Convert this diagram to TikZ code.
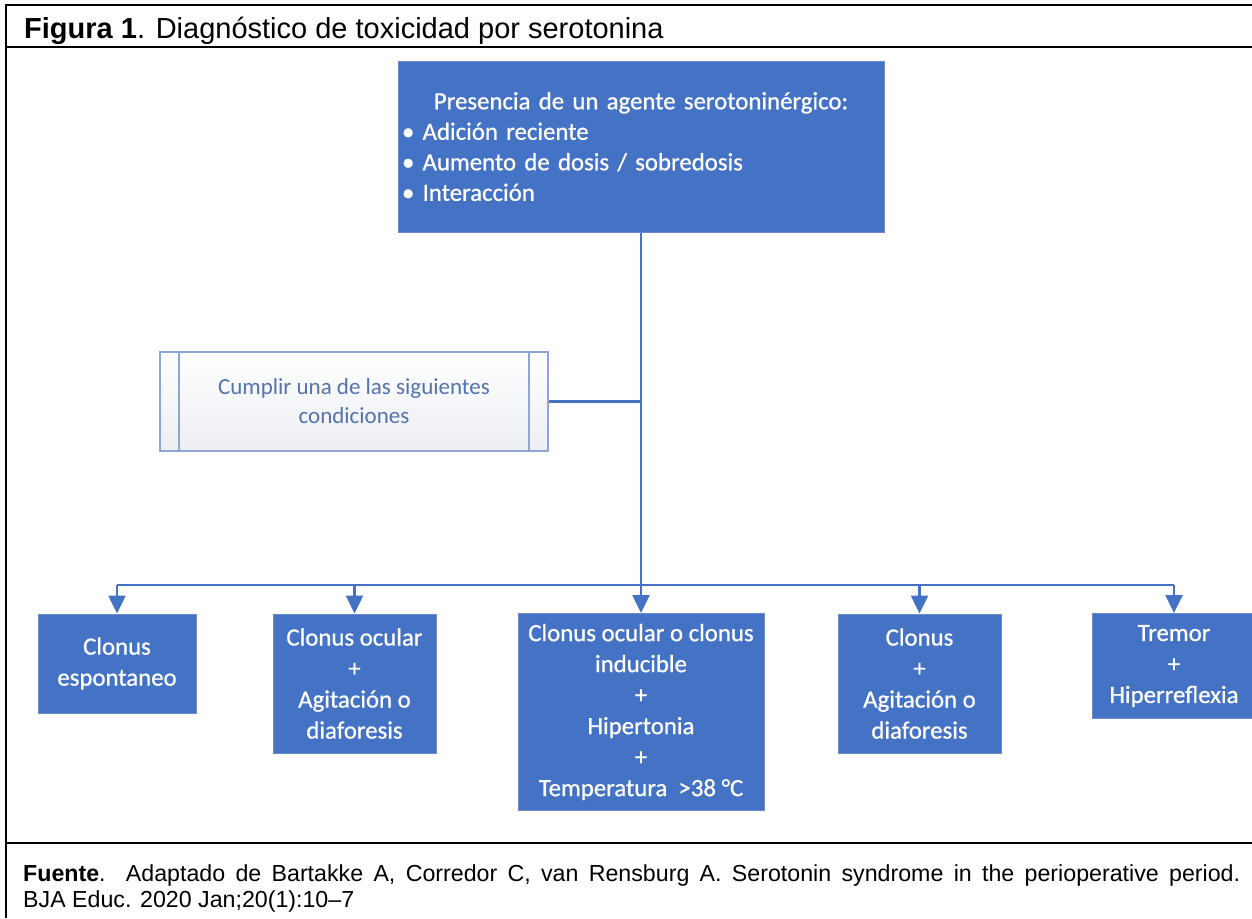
\documentclass[tikz,border=0pt]{standalone}
\usepackage{fontspec}
\setmainfont{Liberation Sans}
\newfontfamily\calfont{Carlito}
\newfontfamily\calwhite{Carlito}[FakeBold=0.8]
\usetikzlibrary{arrows.meta}
\definecolor{boxblue}{HTML}{4472C4}
\definecolor{boxedge}{HTML}{6A8CCB}
\definecolor{condedge}{HTML}{8EA6D6}
\definecolor{condtext}{HTML}{5273AE}
\definecolor{condbot}{HTML}{ECEEF3}
\tikzset{
  frame/.style={draw=black, line width=2pt},
  bluebox/.style={rectangle, fill=boxblue, draw=boxedge, line width=1pt, text=white,
    align=center, inner sep=4pt, font=\calwhite\fontsize{24.8}{31}\selectfont},
  condbox/.style={rectangle, draw=condedge, line width=2pt, top color=white, bottom color=condbot,
    text=condtext, align=center, font=\calfont\fontsize{23}{29}\selectfont},
  condline/.style={draw=condedge, line width=2pt},
  conn/.style={draw=boxblue, line width=2.5pt},
  arr/.style={conn, -{Triangle[width=17pt,length=18pt]}},
}
\begin{document}
\begin{tikzpicture}[x=1pt,y=-1pt]
\useasboundingbox (0,0) rectangle (1252,918);
% frame
\draw[frame] (6,918) -- (6,5) -- (1252,5);
\draw[frame] (6,47) -- (1252,47);
\draw[frame] (6,843) -- (1252,843);
% title and source
\node[anchor=base west, inner sep=0, font=\fontsize{29}{34}\selectfont] (title) at (24,38.5)
  {\textbf{Figura 1}. Diagnóstico de toxicidad por serotonina};
\node[anchor=base west, inner sep=0, font=\fontsize{23.2}{26}\selectfont] (src1) at (23,881)
  {\makebox[1217pt][s]{\textbf{Fuente}. Adaptado de Bartakke A, Corredor C, van Rensburg A. Serotonin syndrome in the perioperative period.}};
\node[anchor=base west, inner sep=0, font=\fontsize{23.2}{26}\selectfont] (src2) at (23,907)
  {BJA Educ. 2020 Jan;20(1):10–7};
% top box
\node[bluebox, minimum width=486pt, minimum height=171pt, text width=478pt, align=left,
  font=\calwhite\fontsize{24.8}{30.5}\selectfont] (agent) at (641,146.5)
  {\makebox[478pt][c]{Presencia de un agente serotoninérgico:}\\
   • Adición reciente\\
   • Aumento de dosis / sobredosis\\
   • Interacción};
% conditions box
\node[condbox, minimum width=388pt, minimum height=99pt] (cond) at (354,401.5)
  {Cumplir una de las siguientes\\condiciones};
\draw[condline] ([xshift=20pt]cond.north west) -- ([xshift=20pt]cond.south west);
\draw[condline] ([xshift=-20pt]cond.north east) -- ([xshift=-20pt]cond.south east);
% bottom boxes
\node[bluebox, minimum width=158pt, minimum height=99pt] (b1) at (117,663.5)
  {Clonus\\espontaneo};
\node[bluebox, minimum width=163pt, minimum height=139pt] (b2) at (354.5,683.5)
  {Clonus ocular\\+\\Agitación o\\diaforesis};
\node[bluebox, minimum width=246pt, minimum height=197pt] (b3) at (641,712)
  {Clonus ocular o clonus\\inducible\\+\\Hipertonia\\+\\Temperatura~~>38 °C};
\node[bluebox, minimum width=163pt, minimum height=139pt] (b4) at (919.5,683.5)
  {Clonus\\+\\Agitación o\\diaforesis};
\node[bluebox, minimum width=164pt, minimum height=105pt] (b5) at (1174,666)
  {Tremor\\+\\Hiperreflexia};
% connectors
\coordinate (bus) at (641,585);
\draw[conn] (agent.south) -- (bus);
\draw[conn] (cond.east) -- (cond.east -| agent.south);
\draw[conn] (b1.north |- bus) -- (b5.north |- bus);
\foreach \b in {b1,b2,b3,b4,b5} {
  \draw[arr] (\b.north |- bus) -- (\b.north);
}
\end{tikzpicture}
\end{document}
